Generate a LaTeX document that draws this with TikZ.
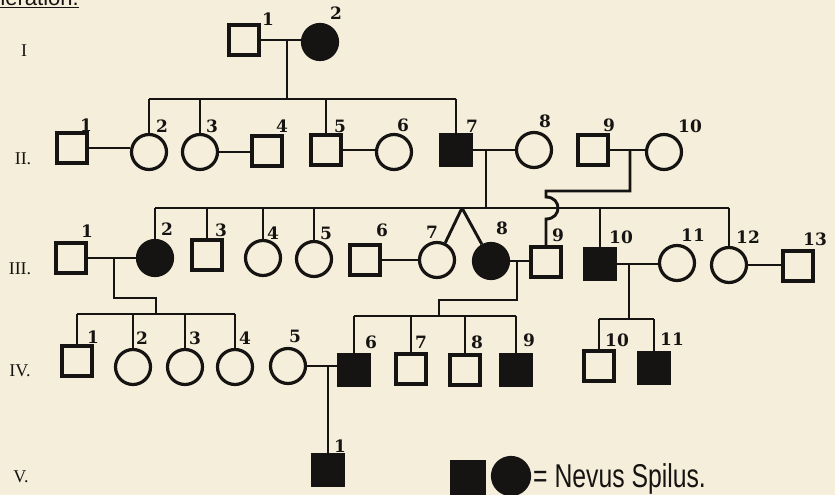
\documentclass[tikz,border=0pt]{standalone}
\usepackage{fontspec}
\usepackage{graphicx}
\setmainfont{DejaVu Serif}
\newfontfamily\numfont{DejaVu Serif}
\newfontfamily\romfont{Liberation Serif}
\newfontfamily\handfont{Liberation Sans}
\definecolor{paper}{RGB}{245,238,218}
\definecolor{ink}{RGB}{22,20,18}
\tikzset{
  male/.style={rectangle, draw=ink, fill=paper, line width=3.2pt, minimum size=30pt, inner sep=0pt},
  female/.style={circle, draw=ink, fill=paper, line width=3.2pt, minimum size=35pt, inner sep=0pt},
  amale/.style={male, fill=ink},
  afemale/.style={female, fill=ink},
  num/.style={font=\numfont\bfseries\fontsize{17}{17}\selectfont, text=ink, inner sep=0pt},
  gen/.style={font=\romfont\fontsize{18}{18}\selectfont, text=ink, inner sep=0pt},
  con/.style={line width=2.9pt, draw=ink},
}
\begin{document}
\begin{tikzpicture}[x=1pt,y=-1pt]
\fill[paper] (0,0) rectangle (835,495);
\useasboundingbox (0,0) rectangle (835,495);

% heading
\node[anchor=base east, font=\handfont\fontsize{22}{22}\selectfont, text=ink, inner sep=0pt] (head) at (79,6) {\underline{Generation.}};

% generation labels
\node[gen] (gI) at (24,51) {I};
\node[gen] (gII) at (23,159) {II.};
\node[gen] (gIII) at (20,269) {III.};
\node[gen] (gIV) at (20,371) {IV.};
\node[gen] (gV) at (21,477) {V.};

% generation I
\node[male] (I1) at (244,40) {};
\node[afemale] (I2) at (320,42) {};

% generation II
\node[male] (II1) at (72,148) {};
\node[female] (II2) at (149,152) {};
\node[female] (II3) at (200,152) {};
\node[male] (II4) at (267,151) {};
\node[male] (II5) at (326,150) {};
\node[female] (II6) at (394,152) {};
\node[amale] (II7) at (456,150) {};
\node[female] (II8) at (534,150) {};
\node[male] (II9) at (593,150) {};
\node[female] (II10) at (664,152) {};

% generation III
\node[male] (III1) at (71,258) {};
\node[afemale] (III2) at (155,258) {};
\node[male] (III3) at (207,255) {};
\node[female] (III4) at (263,258) {};
\node[female] (III5) at (314,259) {};
\node[male] (III6) at (365,260) {};
\node[female] (III7) at (437,260) {};
\node[afemale] (III8) at (491,261) {};
\node[male] (III9) at (546,262) {};
\node[amale] (III10) at (600,264) {};
\node[female] (III11) at (677,263) {};
\node[female] (III12) at (729,265) {};
\node[male] (III13) at (798,266) {};

% generation IV
\node[male] (IV1) at (77,361) {};
\node[female] (IV2) at (133,367) {};
\node[female] (IV3) at (185,367) {};
\node[female] (IV4) at (235,367) {};
\node[female] (IV5) at (288,366) {};
\node[amale] (IV6) at (354,370) {};
\node[male] (IV7) at (411,369) {};
\node[male] (IV8) at (465,370) {};
\node[amale] (IV9) at (516,370) {};
\node[male] (IV10) at (599,366) {};
\node[amale] (IV11) at (654,368) {};

% generation V
\node[amale] (V1) at (328,470) {};

% ---- connectors ----
% I
\draw[con] (I1.east) -- (I1.east -| I2.west);
\coordinate (dI) at (287,40);
\coordinate (sII) at (287,99);
\draw[con] (dI) -- (sII);
\draw[con] (II2.north |- sII) -- (II7.north |- sII);
\foreach \n in {II2,II3,II5,II7} \draw[con] (\n.north |- sII) -- (\n.north);

% II marriages
\draw[con] (II1.east) -- (II1.east -| II2.west);
\draw[con] (II3.east) -- (II3.east -| II4.west);
\draw[con] (II5.east) -- (II5.east -| II6.west);
\draw[con] (II7.east) -- (II7.east -| II8.west);
\draw[con] (II9.east) -- (II9.east -| II10.west);

% II7 x II8 children
\coordinate (dII7) at (486,151);
\coordinate (sIII) at (486,208);
\draw[con] (dII7) -- (sIII);
\draw[con] (III2.north |- sIII) -- (III12.north |- sIII);
\foreach \n in {III2,III3,III4,III5,III10,III12} \draw[con] (\n.north |- sIII) -- (\n.north);
\coordinate (tw) at (462,208);
\draw[con] (tw) -- (III7);
\draw[con] (tw) -- (III8);

% II9 x II10 child (III9) with hop
\coordinate (dII9) at (630,151);
\coordinate (k1) at (630,191);
\coordinate (k2) at (546,191);
\coordinate (h1) at (546,197);
\coordinate (h2) at (546,219);
\draw[con] (dII9) -- (k1) -- (k2) -- (h1) .. controls (562,197) and (562,219) .. (h2) -- (III9.north);

% III marriages
\draw[con] (III1.east) -- (III1.east -| III2.west);
\draw[con] (III6.east) -- (III6.east -| III7.west);
\draw[con] (III8.east) -- (III8.east -| III9.west);
\draw[con] (III10.east) -- (III10.east -| III11.west);
\draw[con] (III12.east) -- (III12.east -| III13.west);

% III1 x III2 children
\coordinate (dIII1) at (114,258);
\coordinate (a1) at (114,298);
\coordinate (a2) at (156,298);
\coordinate (sIVa) at (156,314);
\draw[con] (dIII1) -- (a1) -- (a2) -- (sIVa);
\draw[con] (IV1.north |- sIVa) -- (IV4.north |- sIVa);
\foreach \n in {IV1,IV2,IV3,IV4} \draw[con] (\n.north |- sIVa) -- (\n.north);

% III8 x III9 children
\coordinate (dIII8) at (517,262);
\coordinate (b1) at (517,300);
\coordinate (b2) at (439,300);
\coordinate (sIVb) at (439,316);
\draw[con] (dIII8) -- (b1) -- (b2) -- (sIVb);
\draw[con] (IV6.north |- sIVb) -- (IV9.north |- sIVb);
\foreach \n in {IV6,IV7,IV8,IV9} \draw[con] (\n.north |- sIVb) -- (\n.north);

% III10 x III11 children
\coordinate (dIII10) at (629,264);
\coordinate (sIVc) at (629,319);
\draw[con] (dIII10) -- (sIVc);
\draw[con] (IV10.north |- sIVc) -- (IV11.north |- sIVc);
\foreach \n in {IV10,IV11} \draw[con] (\n.north |- sIVc) -- (\n.north);

% IV5 x IV6 child
\draw[con] (IV5.east) -- (IV5.east -| IV6.west);
\coordinate (dIV5) at (328,366);
\draw[con] (dIV5) -- (V1.north);

% ---- numbers ----
\node[num] (lI1) at (268,19) {1};
\node[num] (lI2) at (336,13) {2};

\node[num] (lII1) at (86,125) {1};
\node[num] (lII2) at (162,126) {2};
\node[num] (lII3) at (212,126) {3};
\node[num] (lII4) at (282,126) {4};
\node[num] (lII5) at (340,126) {5};
\node[num] (lII6) at (403,125) {6};
\node[num] (lII7) at (472,126) {7};
\node[num] (lII8) at (545,121) {8};
\node[num] (lII9) at (609,125) {9};
\node[num] (lII10) at (690,126) {10};

\node[num] (lIII1) at (87,231) {1};
\node[num] (lIII2) at (167,229) {2};
\node[num] (lIII3) at (221,230) {3};
\node[num] (lIII4) at (273,233) {4};
\node[num] (lIII5) at (326,233) {5};
\node[num] (lIII6) at (382,230) {6};
\node[num] (lIII7) at (432,232) {7};
\node[num] (lIII8) at (502,228) {8};
\node[num] (lIII9) at (558,235) {9};
\node[num] (lIII10) at (621,237) {10};
\node[num] (lIII11) at (693,235) {11};
\node[num] (lIII12) at (748,237) {12};
\node[num] (lIII13) at (815,239) {13};

\node[num] (lIV1) at (93,337) {1};
\node[num] (lIV2) at (142,338) {2};
\node[num] (lIV3) at (195,338) {3};
\node[num] (lIV4) at (245,338) {4};
\node[num] (lIV5) at (295,336) {5};
\node[num] (lIV6) at (371,342) {6};
\node[num] (lIV7) at (421,342) {7};
\node[num] (lIV8) at (477,342) {8};
\node[num] (lIV9) at (529,340) {9};
\node[num] (lIV10) at (617,340) {10};
\node[num] (lIV11) at (672,339) {11};

\node[num] (lV1) at (340,446) {1};

% ---- legend ----
\node[amale, minimum size=32pt] (LS) at (468,478) {};
\node[afemale, minimum size=37pt] (LC) at (511,476) {};
\node[anchor=base west, inner sep=0pt, text=ink, font=\handfont\fontsize{33}{33}\selectfont] (LT) at (533,487) {\scalebox{0.75}[1]{= Nevus Spilus.}};
\end{tikzpicture}
\end{document}
